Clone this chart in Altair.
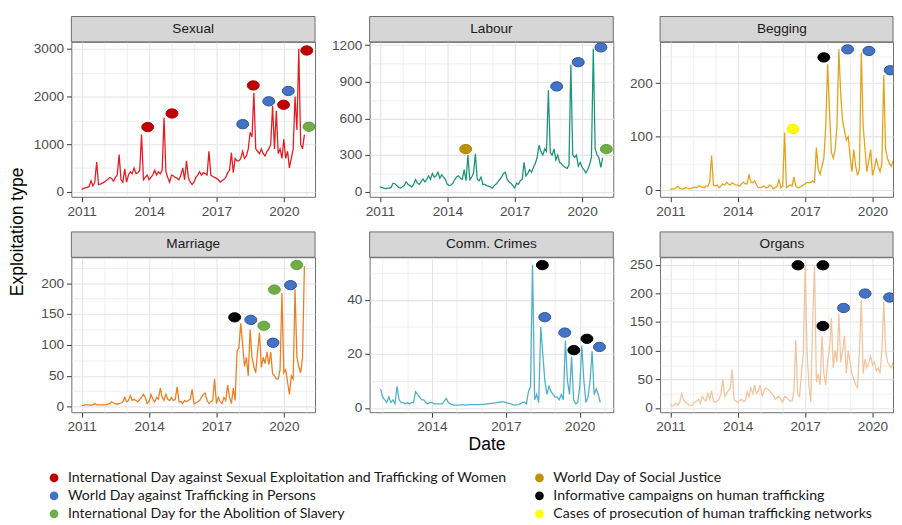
import altair as alt
import pandas as pd

# ---------------- data ----------------
YEARS = list(range(2011, 2021))
MONTH_X = [y + m / 12 for y in YEARS for m in range(12)]

sexual = (
    [50, 70, 80, 90, 110, 230, 120, 200, 625, 150, 160, 180]
    + [200, 230, 260, 300, 280, 220, 300, 350, 780, 250, 200, 480]
    + [200, 350, 420, 380, 500, 380, 400, 450, 1200, 250, 300, 350]
    + [250, 300, 350, 450, 350, 420, 380, 450, 1560, 420, 300, 200]
    + [350, 330, 300, 280, 250, 350, 500, 250, 650, 300, 200, 150]
    + [200, 300, 350, 420, 350, 400, 380, 350, 850, 350, 320, 300]
    + [280, 250, 200, 230, 260, 300, 400, 450, 820, 400, 700, 650]
    + [650, 700, 850, 700, 750, 900, 1250, 1150, 2080, 900, 850, 800]
    + [900, 800, 750, 850, 900, 1000, 1800, 900, 1700, 800, 900, 700]
    + [1100, 700, 850, 500, 700, 900, 2000, 1300, 3000, 1000, 900, 1200]
)
labour = (
    [40, 35, 30, 25, 30, 30, 35, 70, 65, 50, 35, 30]
    + [40, 50, 80, 60, 50, 40, 60, 100, 70, 60, 80, 105]
    + [80, 100, 130, 100, 150, 120, 130, 160, 110, 140, 120, 100]
    + [60, 50, 55, 70, 100, 120, 130, 110, 100, 180, 90, 300]
    + [100, 120, 150, 310, 100, 90, 120, 60, 60, 50, 45, 40]
    + [30, 50, 60, 80, 100, 120, 150, 160, 100, 80, 70, 50]
    + [30, 70, 60, 90, 100, 240, 130, 150, 180, 160, 200, 230]
    + [280, 380, 330, 300, 350, 330, 830, 320, 300, 350, 260, 300]
    + [240, 230, 210, 200, 190, 220, 1040, 300, 280, 300, 210, 240]
    + [200, 180, 155, 180, 220, 280, 1170, 350, 300, 280, 200, 280]
)
begging = (
    [2, 3, 3, 5, 8, 4, 3, 3, 5, 4, 3, 4]
    + [5, 6, 5, 8, 8, 6, 5, 8, 8, 15, 65, 10]
    + [8, 10, 5, 8, 12, 10, 15, 12, 10, 14, 12, 10]
    + [10, 8, 12, 15, 12, 12, 30, 15, 14, 18, 10, 5]
    + [5, 6, 8, 5, 5, 10, 8, 3, 5, 8, 20, 5]
    + [8, 108, 5, 8, 10, 8, 25, 8, 5, 5, 8, 10]
    + [12, 15, 14, 15, 18, 15, 80, 40, 30, 45, 60, 120]
    + [235, 150, 71, 60, 75, 120, 263, 180, 130, 112, 94, 100]
    + [64, 35, 76, 45, 28, 40, 257, 120, 76, 35, 55, 76]
    + [28, 40, 60, 45, 35, 50, 215, 76, 60, 50, 45, 55]
)
marriage = (
    [2, 2, 3, 3, 3, 2, 3, 5, 3, 3, 3, 3]
    + [3, 3, 4, 5, 8, 6, 5, 4, 5, 6, 8, 15]
    + [8, 10, 18, 10, 12, 10, 8, 12, 15, 20, 15, 5]
    + [8, 20, 12, 8, 15, 12, 30, 15, 10, 20, 12, 10]
    + [15, 10, 12, 32, 8, 8, 5, 10, 8, 10, 12, 28]
    + [5, 6, 8, 10, 15, 20, 22, 10, 5, 8, 10, 45]
    + [5, 15, 8, 5, 15, 10, 35, 15, 5, 30, 10, 90]
    + [95, 135, 100, 65, 80, 50, 125, 80, 65, 55, 90, 120]
    + [64, 80, 70, 89, 68, 89, 53, 50, 45, 45, 60, 184]
    + [55, 60, 40, 20, 50, 45, 190, 80, 65, 55, 80, 228]
)
comm_crimes = (
    [None] * 11
    + [7]
    + [4, 3, 2, 4, 2, 3, 1.5, 8, 3, 2, 2, 1.5]
    + [2, 1.5, 2, 2, 6, 5, 4, 3, 3, 2, 1.5, 2]
    + [2, 1.5, 1.5, 1.5, 1.5, 1.5, 2.5, 3.5, 2, 1.5, 1.2, 1.0]
    + [1.0, 1.0, 1.1, 1.1, 1.1, 1.1, 1.1, 1.2, 1.2, 1.2, 1.2, 1.2]
    + [1.3, 1.3, 1.4, 1.5, 1.6, 1.7, 1.8, 1.9, 2.0, 2.1, 2.2, 2.2]
    + [2.0, 1.8, 1.6, 1.3, 1.0, 1.1, 1.2, 1.5, 2.0, 2.2, 1.5, 6]
    + [8, 53, 3, 5, 2, 30, 20, 10, 5, 8, 6, 5]
    + [4, 4, 3, 5, 3, 25, 10, 5, 19, 3, 1.5, 2]
    + [8, 23, 10, 2, 4, 10, 21, 5, 7, 5, 2, None]
)
organs = (
    [6, 3, 5, 8, 5, 10, 25, 15, 10, 8, 5, 4]
    + [5, 10, 12, 15, 8, 20, 15, 12, 25, 15, 30, 12]
    + [10, 12, 15, 25, 50, 20, 25, 30, 35, 67, 15, 12]
    + [10, 12, 15, 12, 12, 28, 20, 35, 25, 40, 25, 30]
    + [40, 20, 30, 35, 32, 30, 25, 22, 15, 18, 20, 15]
    + [10, 20, 18, 15, 12, 12, 30, 118, 25, 20, 60, 95]
    + [248, 100, 40, 10, 150, 248, 45, 60, 40, 125, 60, 40]
    + [80, 103, 157, 70, 100, 80, 165, 80, 100, 126, 60, 100]
    + [80, 60, 50, 40, 35, 100, 189, 60, 85, 70, 80, 90]
    + [75, 80, 65, 70, 60, 100, 185, 100, 80, 75, 70, 80]
)

PANELS = ["Sexual", "Labour", "Begging", "Marriage", "Comm. Crimes", "Organs"]
SERIES = [sexual, labour, begging, marriage, comm_crimes, organs]
LINE_COLORS = ["#e8191f", "#1b9477", "#e6a117", "#ee7d1f", "#4cb0cc", "#f2c49e"]

# legend order (filled column by column: 3 rows x 2 columns)
EVENTS = [
    "International Day against Sexual Exploitation and Trafficking of Women",
    "World Day against Trafficking in Persons",
    "International Day for the Abolition of Slavery",
    "World Day of Social Justice",
    "Informative campaigns on human trafficking",
    "Cases of prosecution of human trafficking networks",
]
EVENT_FILL = ["#c00000", "#4472c4", "#70ad47", "#bf9000", "#000000", "#ffff00"]
EVENT_STROKE = ["#b00000", "#2f5597", "#63a03c", "#a88000", "#000000", "#eeee00"]

RED, BLUE, GREEN, GOLD, BLACK, YELLOW = EVENTS

ev_panel = (["Sexual"] * 9 + ["Labour"] * 5 + ["Begging"] * 5
            + ["Marriage"] * 7 + ["Comm. Crimes"] * 6 + ["Organs"] * 6)
ev_x = [2013.94, 2015.02, 2018.17, 2018.64, 2019.33, 2019.99, 2020.2, 2021.02, 2021.12,
        2014.82, 2018.87, 2019.83, 2020.84, 2021.08,
        2017.83, 2016.46, 2018.89, 2019.84, 2020.79,
        2017.81, 2018.53, 2019.11, 2019.52, 2019.58, 2020.3, 2020.58,
        2018.48, 2018.58, 2019.39, 2019.76, 2020.29, 2020.8,
        2016.68, 2017.79, 2017.79, 2018.71, 2019.67, 2020.76]
ev_y = [1359, 1644, 1420, 2234, 1900, 1827, 2118, 2968, 1365,
        349, 862, 1060, 1182, 349,
        248, 114.5, 263, 260, 224,
        144.7, 140.6, 131, 103.6, 189.6, 196.8, 229.5,
        52.9, 33.6, 27.9, 21.4, 25.6, 22.6,
        249, 249, 143, 174.5, 199.7, 192.8]
ev_type = [RED, RED, BLUE, RED, BLUE, RED, BLUE, RED, GREEN,
           GOLD, BLUE, BLUE, BLUE, GREEN,
           BLACK, YELLOW, BLUE, BLUE, BLUE,
           BLACK, BLUE, GREEN, BLUE, GREEN, BLUE, GREEN,
           BLACK, BLUE, BLUE, BLACK, BLACK, BLUE,
           BLACK, BLACK, BLACK, BLUE, BLUE, BLUE]

events_df = pd.DataFrame({"panel": ev_panel, "x": ev_x, "value": ev_y, "event": ev_type})

# ---------------- layout settings ----------------
W = 250
W3 = 239          # third column is cut by the right edge of the picture
H = 159
STRIP = 26
PX_PER_YEAR = W / (2021.39 - 2010.54)
XDOM = [2010.54, 2021.39]
XDOM3 = [2010.54, 2010.54 + W3 / PX_PER_YEAR]
XDOM_COMM = [2011.47, 2021.36]

cfg = {
    "Sexual": dict(ydom=[-108, 3150], minor=500, major=1000, xdom=XDOM, width=W),
    "Labour": dict(ydom=[-42, 1227], minor=150, major=300, xdom=XDOM, width=W),
    "Begging": dict(ydom=[-12, 277], minor=50, major=100, xdom=XDOM3, width=W3),
    "Marriage": dict(ydom=[-9, 242], minor=25, major=50, xdom=XDOM, width=W),
    "Comm. Crimes": dict(ydom=[-1.6, 55.8], minor=10, major=20, xdom=XDOM_COMM, width=W),
    "Organs": dict(ydom=[-7.5, 263], minor=25, major=50, xdom=XDOM3, width=W3),
}

ELLIPSE = "M -1 0 A 1 0.78 0 1 1 1 0 A 1 0.78 0 1 1 -1 0 Z"
AXIS_FONT = "Liberation Sans"

color_scale = alt.Scale(domain=EVENTS, range=EVENT_FILL)
stroke_scale = alt.Scale(domain=EVENTS, range=EVENT_STROKE)
legend = alt.Legend(
    title=None, orient="none", legendX=-25, legendY=440, columns=2,
    symbolType="circle", symbolSize=80, symbolStrokeWidth=0,
    labelFont="Lato", labelFontSize=14.5, labelColor="#1a1a1a", labelLimit=1000,
    columnPadding=25, rowPadding=3.5, labelOffset=7,
)


def make_axis(values, major_test, title=None, title_x=None):
    kw = dict(
        values=values,
        format="d",
        labelExpr=f"({major_test}) ? datum.label : ''",
        labelOverlap=False,
        labelFlush=False,
        tickOpacity={"condition": {"test": major_test, "value": 1}, "value": 0},
        gridWidth={"condition": {"test": major_test, "value": 1.1}, "value": 0.6},
        gridColor="#e4e4e4",
        title=title,
    )
    if title_x is not None:
        kw["titleX"] = title_x
    return alt.Axis(**kw)


def panel(name, values, color):
    c = cfg[name]
    w = c["width"]
    df = pd.DataFrame({"x": MONTH_X, "value": values}).dropna()
    ev = events_df[events_df["panel"] == name]
    xd = c["xdom"]
    xvals = [y for y in range(2011, 2022) if xd[0] <= y <= xd[1]]
    yd = c["ydom"]
    yvals = [k * c["minor"] for k in range(0, 40) if k * c["minor"] <= yd[1]]
    xaxis = make_axis(
        xvals, "abs((datum.value - 2011) % 3) < 0.01",
        title="Date" if name == "Comm. Crimes" else None,
        title_x=120 if name == "Comm. Crimes" else None,
    )
    yaxis = make_axis(yvals, f"datum.value % {c['major']} == 0")
    xs = alt.Scale(domain=xd, nice=False, zero=False)
    ys = alt.Scale(domain=yd, nice=False, zero=False)

    line = alt.Chart(df).mark_line(color=color, strokeWidth=1.3, clip=True).encode(
        x=alt.X("x:Q", scale=xs, axis=xaxis),
        y=alt.Y("value:Q", scale=ys, axis=yaxis),
    )
    pts = alt.Chart(ev).mark_point(
        filled=True, shape=ELLIPSE, size=150, opacity=1, strokeWidth=1, clip=True
    ).encode(
        x=alt.X("x:Q", scale=xs, axis=xaxis),
        y=alt.Y("value:Q", scale=ys, axis=yaxis),
        color=alt.Color("event:N", scale=color_scale, legend=legend),
        stroke=alt.Stroke("event:N", scale=stroke_scale, legend=None),
    )
    lab = alt.Data(values=[{"label": name}])
    strip = alt.Chart(lab).mark_rect(fill="#d6d6d6", stroke="#6b6b6b", strokeWidth=1).encode(
        x=alt.value(0), x2=alt.value(w), y=alt.value(-STRIP), y2=alt.value(0)
    )
    strip_text = alt.Chart(lab).mark_text(
        font=AXIS_FONT, fontSize=14, color="#1a1a1a", baseline="middle", align="center"
    ).encode(x=alt.value(W / 2), y=alt.value(-STRIP / 2), text="label:N")
    return alt.layer(line, pts, strip, strip_text).properties(width=w, height=H)


charts = [panel(n, s, col) for n, s, col in zip(PANELS, SERIES, LINE_COLORS)]

chart = alt.concat(
    *charts, columns=3, spacing={"row": 12, "column": 15}, align="each"
).properties(
    title=alt.TitleParams(
        "Exploitation type", orient="left", anchor="middle", fontSize=18,
        font=AXIS_FONT, fontWeight="normal", color="#000000", offset=6, dx=37,
    ),
    padding={"left": 1, "top": 1, "right": 0, "bottom": 0},
).configure_view(
    stroke="#6b6b6b", strokeWidth=1
).configure_axis(
    labelFont=AXIS_FONT, labelFontSize=14, labelColor="#4d4d4d",
    tickColor="#333333", tickSize=5, tickWidth=1, labelPadding=3,
    domain=False, titleFont=AXIS_FONT, titleFontSize=18, titleColor="#000000",
    titleFontWeight="normal", titlePadding=2,
)

chart.save("out.html", embed_options={"renderer": "svg", "actions": False})
